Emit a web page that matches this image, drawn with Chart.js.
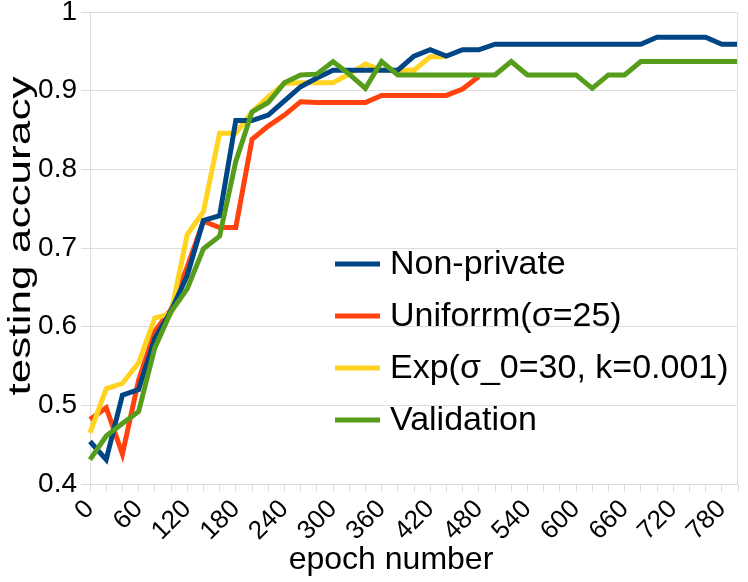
<!DOCTYPE html>
<html>
<head>
<meta charset="utf-8">
<script src="https://cdn.jsdelivr.net/npm/chart.js@4"></script>
<style>
  html, body { margin: 0; padding: 0; background: #fff; }
  #wrap { width: 748px; height: 582px; }
</style>
</head>
<body>
<div id="wrap"><canvas id="accChart" width="748" height="582"></canvas></div>
<script>
// epochs 0..800 step 20
var epochs = [0, 20, 40, 60, 80, 100, 120, 140, 160, 180, 200, 220, 240, 260, 280, 300, 320, 340, 360, 380,
              400, 420, 440, 460, 480, 500, 520, 540, 560, 580, 600, 620, 640, 660, 680, 700, 720, 740, 760, 780, 800];

var seriesNames = ['Non-private', 'Uniforrm(σ=25)', 'Exp(σ_0=30, k=0.001)', 'Validation'];

var nonPrivate = [0.454, 0.431, 0.513, 0.520, 0.585, 0.620, 0.665, 0.735, 0.741, 0.862, 0.862, 0.869, 0.887, 0.905,
                  0.916, 0.926, 0.926, 0.926, 0.926, 0.926, 0.944, 0.952, 0.944, 0.952, 0.952, 0.959, 0.959, 0.959,
                  0.959, 0.959, 0.959, 0.959, 0.959, 0.959, 0.959, 0.968, 0.968, 0.968, 0.968, 0.959, 0.959];

var uniform = [0.482, 0.497, 0.438, 0.532, 0.594, 0.622, 0.676, 0.734, 0.726, 0.726, 0.838, 0.855, 0.869, 0.886,
               0.885, 0.885, 0.885, 0.885, 0.894, 0.894, 0.894, 0.894, 0.894, 0.902, 0.918];

var expDecay = [0.465, 0.521, 0.528, 0.554, 0.611, 0.617, 0.717, 0.746, 0.846, 0.846, 0.873, 0.892, 0.909, 0.910,
                0.910, 0.910, 0.921, 0.934, 0.926, 0.926, 0.926, 0.943, 0.943];

var validation = [0.431, 0.461, 0.477, 0.492, 0.573, 0.619, 0.648, 0.699, 0.715, 0.810, 0.873, 0.885, 0.910, 0.920,
                  0.921, 0.937, 0.921, 0.903, 0.937, 0.920, 0.920, 0.920, 0.920, 0.920, 0.920, 0.920, 0.937, 0.920,
                  0.920, 0.920, 0.920, 0.903, 0.920, 0.920, 0.937, 0.937, 0.937, 0.937, 0.937, 0.937, 0.937];

var yTicks = [0.4, 0.5, 0.6, 0.7, 0.8, 0.9, 1];

var colors = {
    blue: '#004586',
    red: '#ff420e',
    yellow: '#ffd320',
    green: '#579d1c',
    grid: '#dddddd',
    text: '#000000'
};
var fontFamily = "'Liberation Sans', Arial, sans-serif";

// legend inside the plot area + axis titles, drawn by hand
var extras = {
    id: 'extras',
    afterDraw: function(chart) {
        var ctx = chart.ctx;
        var area = chart.chartArea;
        ctx.save();
        ctx.strokeStyle = colors.grid;
        ctx.lineWidth = 1;
        ctx.beginPath();
        ctx.moveTo(area.right - 0.5, area.top);
        ctx.lineTo(area.right - 0.5, area.bottom);
        ctx.stroke();

        var x0 = 335, y0 = 264, rowGap = 52;
        ctx.font = '34px ' + fontFamily;
        ctx.textBaseline = 'middle';
        ctx.fillStyle = colors.text;
        chart.data.datasets.forEach(function(ds, i) {
            var y = y0 + i * rowGap;
            ctx.strokeStyle = ds.borderColor;
            ctx.lineWidth = 5;
            ctx.beginPath();
            ctx.moveTo(x0, y);
            ctx.lineTo(x0 + 45, y);
            ctx.stroke();
            ctx.fillText(seriesNames[i], x0 + 55, y + 1);
        });

        // axis titles
        ctx.font = '32px ' + fontFamily;
        ctx.textAlign = 'center';
        ctx.fillText('epoch number', 391, 560);

        ctx.translate(21, 236);
        ctx.rotate(-Math.PI / 2);
        ctx.scale(1.38, 1);
        ctx.fillText('testing accuracy', 0, 0);
        ctx.restore();
    }
};

var ctx = document.getElementById('accChart').getContext('2d');
new Chart(ctx, {
    type: 'line',
    data: {
        labels: epochs,
        datasets: [{
            label: seriesNames[0],
            data: nonPrivate,
            borderColor: colors.blue,
            order: 1
        }, {
            label: seriesNames[1],
            data: uniform,
            borderColor: colors.red,
            order: 3
        }, {
            label: seriesNames[2],
            data: expDecay,
            borderColor: colors.yellow,
            order: 2
        }, {
            label: seriesNames[3],
            data: validation,
            borderColor: colors.green,
            order: 0
        }]
    },
    options: {
        responsive: false,
        animation: false,
        devicePixelRatio: 1,
        layout: { padding: { top: 12, right: 10, left: 0, bottom: 0 } },
        elements: {
            line: { borderWidth: 5, tension: 0, fill: false, borderJoinStyle: 'miter', borderCapStyle: 'butt' },
            point: { radius: 0, hoverRadius: 0 }
        },
        plugins: {
            legend: { display: false },
            tooltip: { enabled: false }
        },
        scales: {
            x: {
                type: 'category',
                offset: false,
                afterFit: function(scale) {
                    scale.height = 98;
                    scale.paddingLeft = 0;
                    scale.paddingRight = 0;
                },
                grid: {
                    drawOnChartArea: false,
                    drawTicks: true,
                    tickLength: 8,
                    color: colors.grid
                },
                border: { color: colors.grid },
                ticks: {
                    autoSkip: false,
                    minRotation: 45,
                    maxRotation: 45,
                    padding: 2,
                    color: colors.text,
                    font: { family: fontFamily, size: 26 },
                    callback: function(value, index) {
                        return index % 3 === 0 ? String(epochs[index]) : '';
                    }
                }
            },
            y: {
                min: 0.4,
                max: 1,
                afterFit: function(scale) {
                    scale.width = 90;
                    scale.paddingTop = 0;
                    scale.paddingBottom = 0;
                },
                afterBuildTicks: function(scale) {
                    scale.ticks = yTicks.map(function(v) { return { value: v }; });
                },
                grid: {
                    color: colors.grid,
                    tickLength: 9
                },
                border: { color: colors.grid },
                ticks: {
                    color: colors.text,
                    padding: 4,
                    font: { family: fontFamily, size: 28 },
                    callback: function(value) { return String(+value.toFixed(1)); }
                }
            }
        }
    },
    plugins: [extras]
});
</script>
</body>
</html>
